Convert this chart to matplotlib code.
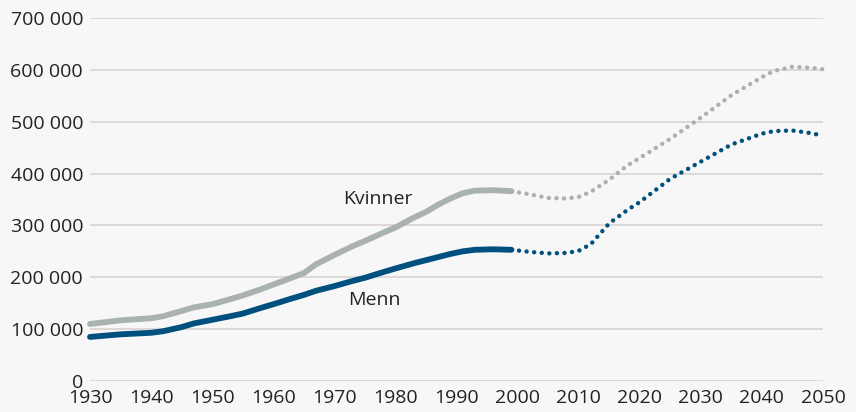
import matplotlib.pyplot as plt
from matplotlib.ticker import FuncFormatter

# historic population (thousands)
years_hist = [1930, 1935, 1940, 1942, 1945, 1947, 1950, 1953, 1955, 1958, 1960,
              1963, 1965, 1967, 1970, 1973, 1975, 1978, 1980, 1983, 1985, 1987,
              1989, 1991, 1993, 1996, 1999]
kvinner_hist = [110, 117, 121, 125, 135, 142, 148, 158, 165, 177, 186,
                199, 208, 225, 243, 260, 270, 286, 296, 315, 326, 340,
                352, 362, 367, 368, 366]
menn_hist = [85, 90, 93, 96, 104, 111, 118, 125, 130, 141, 148,
             159, 166, 174, 183, 193, 199, 210, 217, 227, 233, 239,
             245, 250, 253, 254, 253]

# projection
years_proj = [1999, 2002, 2005, 2008, 2010, 2012, 2015, 2018, 2020, 2025,
              2030, 2035, 2040, 2042, 2045, 2048, 2050]
kvinner_proj = [366, 360, 353, 352, 355, 365, 388, 416, 430, 467,
                508, 551, 586, 598, 606, 604, 601]
menn_proj = [253, 249, 246, 247, 251, 264, 304, 330, 345, 390,
             423, 456, 477, 482, 483, 478, 473]

grey = '#a9b2b1'
blue = '#00507f'
bg = '#f7f7f7'

plt.rcParams['font.family'] = ['Open Sans', 'DejaVu Sans']

fig = plt.figure(figsize=(8.56, 4.12), dpi=100, facecolor=bg)
ax = fig.add_axes([90 / 856, 1 - 381 / 412, 733 / 856, 363 / 412])
ax.set_facecolor(bg)

k_hist = [v * 1000 for v in kvinner_hist]
m_hist = [v * 1000 for v in menn_hist]
k_proj = [v * 1000 for v in kvinner_proj]
m_proj = [v * 1000 for v in menn_proj]

ax.plot(years_hist, k_hist, color=grey, lw=4.2, solid_capstyle='round', zorder=3, clip_on=False)
ax.plot(years_hist, m_hist, color=blue, lw=4.2, solid_capstyle='round', zorder=3, clip_on=False)
ax.plot(years_proj, k_proj, color=grey, lw=3.2, linestyle=(0, (0.01, 1.7)),
        dash_capstyle='round', zorder=3, clip_on=False)
ax.plot(years_proj, m_proj, color=blue, lw=3.2, linestyle=(0, (0.01, 1.7)),
        dash_capstyle='round', zorder=3, clip_on=False)

ax.text(1977.2, 351000, 'Kvinner', fontsize=14, color='#222222', ha='center', va='center')
ax.text(1976.6, 156000, 'Menn', fontsize=14, color='#222222', ha='center', va='center')

ax.set_xlim(1930, 2050)
ax.set_ylim(0, 700000)
ax.set_xticks(range(1930, 2051, 10))
ax.set_yticks(range(0, 700001, 100000))
ax.yaxis.set_major_formatter(FuncFormatter(lambda v, p: f'{int(v):,}'.replace(',', ' ')))
ax.grid(axis='y', color='#d9d4d0', lw=1.2)
ax.set_axisbelow(True)
for s in ax.spines.values():
    s.set_visible(False)
ax.tick_params(length=0, labelsize=14, labelcolor='#222222')
ax.tick_params(axis='y', pad=5)
ax.tick_params(axis='x', pad=6)

fig.savefig('out.png', dpi=100, facecolor=bg)
